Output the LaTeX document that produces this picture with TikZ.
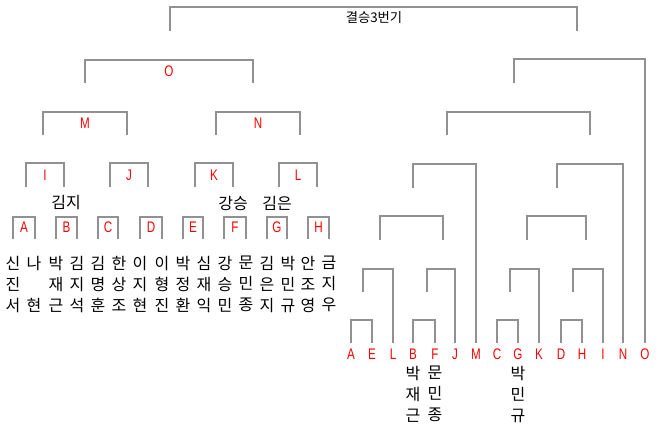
\documentclass[tikz,border=0pt]{standalone}
\usepackage{fontspec}
\usepackage{xcolor}
\setmainfont{Liberation Sans}
\newfontfamily\narrow[FakeStretch=0.76]{Liberation Sans}
\newfontfamily\kor{Noto Sans CJK KR}
\definecolor{bracketgray}{RGB}{145,145,145}

\tikzset{
  bracket/.style={draw=bracketgray, line width=1.1pt},
  tag/.style={text=red, inner sep=0pt, font=\narrow\fontsize{11.5}{11.5}\selectfont},
  player/.style={inner sep=0pt, anchor=north, align=center,
                 font=\kor\fontsize{12}{15.8}\selectfont},
  winner/.style={inner sep=0pt, font=\kor\fontsize{12}{15.8}\selectfont}
}

\begin{document}
\begin{tikzpicture}[x=0.75pt, y=-0.75pt]
  \useasboundingbox (0,0) rectangle (660,426);

  % final
  \draw[bracket] (170,31) |- (577,7) -- (577,31);
  \node[inner sep=0pt, font=\kor\fontsize{10}{10}\selectfont] (title) at (374,18) {결승3번기};

  % left half
  \draw[bracket] (85,83) |- (253,60) -- (253,83);
  \node[tag] (O) at (169,71) {O};
  \draw[bracket] (43,135) |- (127,112) -- (127,135);
  \node[tag] (M) at (85,123) {M};
  \draw[bracket] (216,135) |- (300,112) -- (300,135);
  \node[tag] (N) at (258,123) {N};

  \draw[bracket] (26,187) |- (64,163) -- (64,187);
  \node[tag] (I) at (45,175) {I};
  \draw[bracket] (110,187) |- (148,163) -- (148,187);
  \node[tag] (J) at (129,175) {J};
  \draw[bracket] (195,187) |- (233,163) -- (233,187);
  \node[tag] (K) at (214,175) {K};
  \draw[bracket] (279,187) |- (317,163) -- (317,187);
  \node[tag] (L) at (298,175) {L};

  \node[winner] (wB) at (66,203) {김지};
  \node[winner] (wF) at (233,203) {강승};
  \node[winner] (wG) at (277,203) {김은};

  \foreach \t/\a/\b in {A/13/35, B/56/77, C/98/118, D/140/162,
                        E/183/203, F/224/246, G/267/287, H/308/329}
  {
    \draw[bracket] (\a,239) |- (\b,217) -- (\b,239);
    \node[tag] (\t) at ({(\a+\b)/2},227) {\t};
  }

  \node[player] (p1) at (13,256) {신\\진\\서};
  \node[player] (p2) at (34,256) {나\\{}\\현};
  \node[player] (p3) at (56,256) {박\\재\\근};
  \node[player] (p4) at (77,256) {김\\지\\석};
  \node[player] (p5) at (98,256) {김\\명\\훈};
  \node[player] (p6) at (119,256) {한\\상\\조};
  \node[player] (p7) at (140,256) {이\\지\\현};
  \node[player] (p8) at (162,256) {이\\형\\진};
  \node[player] (p9) at (183,256) {박\\정\\환};
  \node[player] (p10) at (204,256) {심\\재\\익};
  \node[player] (p11) at (225,256) {강\\승\\민};
  \node[player] (p12) at (246,256) {문\\민\\종};
  \node[player] (p13) at (267,256) {김\\은\\지};
  \node[player] (p14) at (288,256) {박\\민\\규};
  \node[player] (p15) at (308,256) {안\\조\\영};
  \node[player] (p16) at (329,256) {금\\지\\우};

  % right half
  \draw[bracket] (514,83) |- (645,59) -- (645,343);
  \draw[bracket] (447,135) |- (590,112) -- (590,135);
  \draw[bracket] (413,188) |- (476,164) -- (476,343);
  \draw[bracket] (557,188) |- (623,164) -- (623,343);
  \draw[bracket] (380,240) |- (443,216) -- (443,240);
  \draw[bracket] (527,240) |- (586,216) -- (586,240);
  \draw[bracket] (363,292) |- (393,269) -- (393,343);
  \draw[bracket] (427,292) |- (455,269) -- (455,343);
  \draw[bracket] (510,292) |- (539,269) -- (539,343);
  \draw[bracket] (573,292) |- (603,269) -- (603,343);
  \draw[bracket] (351,343) |- (372,320) -- (372,343);
  \draw[bracket] (413,343) |- (435,320) -- (435,343);
  \draw[bracket] (497,343) |- (518,320) -- (518,343);
  \draw[bracket] (561,343) |- (582,320) -- (582,343);

  \foreach \t/\x in {A/351, E/372, L/393, B/413, F/435, J/455, M/476, C/497,
                     G/518, K/539, D/561, H/582, I/603, N/623, O/645}
    \node[tag] (r\t) at (\x,354) {\t};

  \node[player] (q1) at (413,366) {박\\재\\근};
  \node[player] (q2) at (435,366) {문\\민\\종};
  \node[player] (q3) at (518,366) {박\\민\\규};
\end{tikzpicture}
\end{document}
